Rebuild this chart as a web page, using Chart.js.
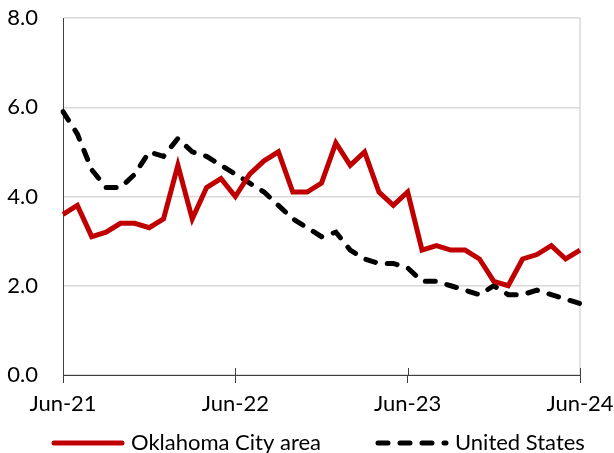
<!DOCTYPE html>
<html>
<head>
<meta charset="utf-8">
<script src="https://cdn.jsdelivr.net/npm/chart.js@4.4.1/dist/chart.umd.min.js"></script>
<style>
  html, body { margin: 0; padding: 0; background: #fff; }
  #wrap { width: 614px; height: 453px; }
</style>
</head>
<body>
<div id="wrap"><canvas id="chart" width="614" height="453"></canvas></div>
<script>
// DATA
const months = [
  'Jun-21','Jul-21','Aug-21','Sep-21','Oct-21','Nov-21','Dec-21',
  'Jan-22','Feb-22','Mar-22','Apr-22','May-22','Jun-22','Jul-22','Aug-22','Sep-22','Oct-22','Nov-22','Dec-22',
  'Jan-23','Feb-23','Mar-23','Apr-23','May-23','Jun-23','Jul-23','Aug-23','Sep-23','Oct-23','Nov-23','Dec-23',
  'Jan-24','Feb-24','Mar-24','Apr-24','May-24','Jun-24'
];
const okcArea = [
  3.6, 3.8, 3.1, 3.2, 3.4, 3.4, 3.3,
  3.5, 4.7, 3.5, 4.2, 4.4, 4.0, 4.5, 4.8, 5.0, 4.1, 4.1, 4.3,
  5.2, 4.7, 5.0, 4.1, 3.8, 4.1, 2.8, 2.9, 2.8, 2.8, 2.6, 2.1,
  2.0, 2.6, 2.7, 2.9, 2.6, 2.8
];
const unitedStates = [
  5.9, 5.4, 4.6, 4.2, 4.2, 4.5, 5.0,
  4.9, 5.3, 5.0, 4.9, 4.7, 4.5, 4.3, 4.1, 3.8, 3.5, 3.3, 3.1,
  3.2, 2.8, 2.6, 2.5, 2.5, 2.4, 2.1, 2.1, 2.0, 1.9, 1.8, 2.0,
  1.8, 1.8, 1.9, 1.8, 1.7, 1.6
];
const yTicks = [0, 2, 4, 6, 8];

const FONT = 'Lato, "Open Sans", sans-serif';
const AXIS_COLOR = '#404040';
const GRID_COLOR = '#d9d9d9';

// short ticks that cross the x axis, plus the light right border
const axisExtras = {
  id: 'axisExtras',
  beforeDatasetsDraw(chart) {
    const { ctx, chartArea } = chart;
    ctx.save();
    ctx.strokeStyle = GRID_COLOR;
    ctx.lineWidth = 1.5;
    ctx.beginPath();
    ctx.moveTo(chartArea.right, chartArea.top);
    ctx.lineTo(chartArea.right, chartArea.bottom);
    ctx.stroke();
    ctx.restore();
  },
  afterDraw(chart) {
    const { ctx, chartArea } = chart;
    const x = chart.scales.x;
    ctx.save();
    ctx.strokeStyle = AXIS_COLOR;
    ctx.lineWidth = 1;
    x.ticks.forEach((t, i) => {
      if (t.label == null) return;
      const px = Math.round(x.getPixelForTick(i)) + 0.5;
      ctx.beginPath();
      ctx.moveTo(px, chartArea.bottom - 7);
      ctx.lineTo(px, chartArea.bottom);
      ctx.stroke();
    });
    ctx.restore();
  }
};

// legend row under the axis, spaced like the original
const lineLegend = {
  id: 'lineLegend',
  afterDraw(chart) {
    const { ctx } = chart;
    const y = 443;
    let x = 54;
    ctx.save();
    ctx.font = `22px ${FONT}`;
    ctx.textBaseline = 'middle';
    ctx.fillStyle = '#000';
    chart.data.datasets.forEach(ds => {
      ctx.strokeStyle = ds.borderColor;
      ctx.lineWidth = ds.borderWidth;
      ctx.lineCap = 'round';
      ctx.setLineDash(ds.borderDash || []);
      ctx.beginPath();
      ctx.moveTo(x, y);
      ctx.lineTo(x + 68, y);
      ctx.stroke();
      ctx.setLineDash([]);
      ctx.fillText(ds.label, x + 77, y);
      x += 77 + ctx.measureText(ds.label).width + 57;
    });
    ctx.restore();
  }
};

const ctx = document.getElementById('chart');
new Chart(ctx, {
  type: 'line',
  data: {
    labels: months,
    datasets: [
      {
        label: 'Oklahoma City area',
        data: okcArea,
        borderColor: '#c00000',
        borderWidth: 5,
        borderJoinStyle: 'miter',
        pointRadius: 0,
        tension: 0
      },
      {
        label: 'United States',
        data: unitedStates,
        borderColor: '#000000',
        borderWidth: 5,
        borderDash: [10, 12],
        borderCapStyle: 'round',
        pointRadius: 0,
        tension: 0
      }
    ]
  },
  options: {
    responsive: false,
    animation: false,
    layout: { padding: { top: 18, right: 34, left: 0, bottom: 33 } },
    plugins: {
      legend: { display: false },
      tooltip: { enabled: false }
    },
    scales: {
      x: {
        afterFit(scale) {
          scale.height = 45;
          scale.paddingLeft = 0;
          scale.paddingRight = 0;
        },
        grid: {
          drawOnChartArea: false,
          drawTicks: true,
          tickLength: 8,
          color: AXIS_COLOR
        },
        border: { color: AXIS_COLOR, width: 1 },
        ticks: {
          autoSkip: false,
          maxRotation: 0,
          padding: 8,
          color: '#000',
          font: { family: FONT, size: 22 },
          callback(value, index) {
            return index % 12 === 0 ? this.getLabelForValue(value) : null;
          }
        }
      },
      y: {
        min: yTicks[0],
        max: yTicks[yTicks.length - 1],
        afterFit(scale) {
          scale.width = 63;
          scale.paddingTop = 0;
          scale.paddingBottom = 0;
        },
        afterBuildTicks(scale) { scale.ticks = yTicks.map(v => ({ value: v })); },
        grid: { color: GRID_COLOR, lineWidth: 1.5, drawTicks: false },
        border: { color: AXIS_COLOR, width: 1 },
        ticks: {
          padding: 25,
          color: '#000',
          font: { family: FONT, size: 22 },
          callback: v => v.toFixed(1)
        }
      }
    }
  },
  plugins: [axisExtras, lineLegend]
});
</script>
</body>
</html>
